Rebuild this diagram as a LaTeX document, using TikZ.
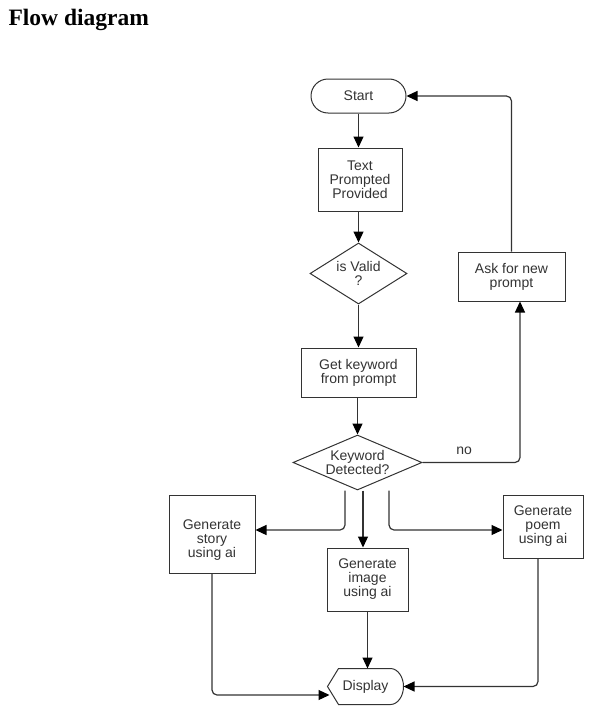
\documentclass[tikz,border=0pt]{standalone}
\usepackage{fontspec}
\setmainfont{Liberation Serif}
\newfontfamily\flowfont{Liberation Sans}
\usepackage{tikz}
\usetikzlibrary{shapes.geometric,arrows.meta,calc}
\definecolor{edgegray}{HTML}{333333}

\begin{document}
\begin{tikzpicture}[x=1pt,y=-1pt,
    box/.style={draw=edgegray,line width=1pt,font=\flowfont\fontsize{14}{14}\selectfont,text=edgegray,align=center,inner sep=0pt},
    decision/.style={box,diamond},
    flow/.style={draw=edgegray,line width=1.2pt,-{Triangle[length=11pt,width=10pt,color=black]},rounded corners=5pt}]
      \useasboundingbox (0,0) rectangle (595,717);
      % Title
      \node[font=\bfseries\fontsize{23.5}{27}\selectfont,anchor=base west] (title) at (5,26) {Flow diagram};
      % Main column
      \node[box,rounded corners=17pt,minimum width=95pt,minimum height=34pt] (start) at (358.5,96) {Start};
      \node[box,minimum width=84pt,minimum height=63pt] (text) at (360,179.5) {Text\\Prompted\\Provided};
      \node[decision,aspect=1.6,minimum width=97pt,minimum height=61pt] (valid) at (358.5,273.5) {is Valid\\?};
      \node[box,minimum width=115pt,minimum height=49pt] (keyword) at (358.5,372.5) {Get keyword\\from prompt};
      \node[decision,aspect=2.35,minimum width=129pt,minimum height=55pt] (detect) at (357.5,462.5) {Keyword\\Detected?};
      \node[box,minimum width=107pt,minimum height=49pt] (ask) at (511.5,276.5) {Ask for new\\prompt};
      % Generators
      \node[box,minimum width=86pt,minimum height=78pt] (story) at (212,534) {\mbox{}\\[8pt]Generate\\story\\using ai};
      \node[box,minimum width=81pt,minimum height=63pt] (image) at (367.5,579.5) {Generate\\image\\using ai};
      \node[box,minimum width=80pt,minimum height=63pt] (poem) at (543,526.5) {Generate\\poem\\using ai};
      % Display
      \node[box,draw=none,minimum width=75pt,minimum height=35pt] (display) at (365.5,686.5) {Display};
      \draw[edgegray,line width=1pt] (display.west) -- ([xshift=11pt]display.north west)
        -- ([xshift=-13pt]display.north east)
        .. controls ([xshift=-5.8pt]display.north east) and ([yshift=9.6pt]display.east) .. (display.east)
        .. controls ([yshift=-9.6pt]display.east) and ([xshift=-5.8pt]display.south east) .. ([xshift=-13pt]display.south east)
        -- ([xshift=11pt]display.south west) -- cycle;
      % Connectors
      \draw[flow] (start.south) -- (start.south |- text.north);
      \draw[flow] (valid.north |- text.south) -- (valid.north);
      \draw[flow] (valid.south) -- (valid.south |- keyword.north);
      \draw[flow] (detect.north |- keyword.south) -- (detect.north);
      \draw[flow] (detect.east) -| node[pos=0.214,above=7pt,inner sep=0pt,font=\flowfont\fontsize{14}{14}\selectfont,text=edgegray] {no} ([xshift=8.5pt]ask.south);
      \draw[flow] (ask.north) |- (start.east);
      \coordinate (leftout) at ([xshift=-12.5pt]detect.south);
      \coordinate (midout) at ([xshift=5.5pt]detect.south);
      \coordinate (rightout) at ([xshift=31.5pt]detect.south);
      \draw[flow] (leftout) |- ([yshift=4pt]story.east);
      \draw[flow] (midout) -- (midout |- image.north);
      \draw[flow] (rightout) |- ([yshift=-3.5pt]poem.west);
      \draw[flow] (story.south) |- ([shift={(2pt,-8.5pt)}]display.west);
      \draw[flow] (image.south) -- (image.south |- display.north);
      \draw[flow] ([xshift=-5pt]poem.south) |- (display.east);
    \end{tikzpicture}
\end{document}
